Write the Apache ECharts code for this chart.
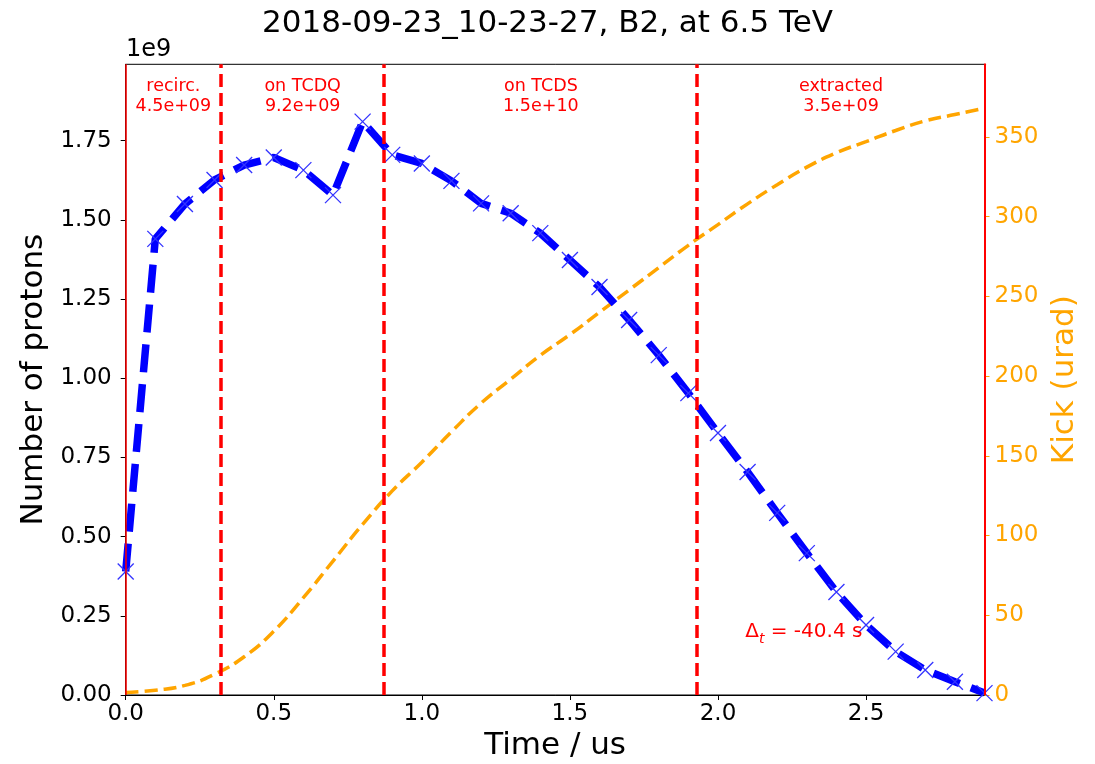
<!DOCTYPE html>
<html>
<head>
<meta charset="utf-8">
<script src="https://cdn.jsdelivr.net/npm/echarts@6/dist/echarts.min.js"></script>
<style>
  html, body { margin: 0; padding: 0; background: #fff; }
  #chart { width: 1095px; height: 764px; }
</style>
</head>
<body>
<div id="chart"></div>
<script>
  // time axis (us), one point every 0.1 us
  var times = [0.0, 0.1, 0.2, 0.3, 0.4, 0.5, 0.6, 0.7, 0.8, 0.9,
               1.0, 1.1, 1.2, 1.3, 1.4, 1.5, 1.6, 1.7, 1.8, 1.9,
               2.0, 2.1, 2.2, 2.3, 2.4, 2.5, 2.6, 2.7, 2.8, 2.9]
  // number of protons (x1e9)
  var protons = [0.39, 1.44, 1.55, 1.626, 1.673, 1.697, 1.657, 1.578, 1.81, 1.705,
                 1.678, 1.623, 1.552, 1.521, 1.458, 1.373, 1.288, 1.184, 1.073, 0.953,
                 0.827, 0.704, 0.575, 0.448, 0.325, 0.221, 0.137, 0.079, 0.042, 0.006]
  // kicker waveform (urad)
  var kick = [1.5, 3, 6, 13, 24, 40, 61, 84, 107, 128,
              146, 165, 183, 198, 213, 226, 240, 254, 268, 282,
              295, 308, 320, 331, 340, 347, 354, 360, 364, 368]
  // region boundaries and labels
  var tStart = 0.0
  var tEnd = 2.9
  var boundaries = [0.322, 0.873, 1.931]
  var regionNames = ['recirc.', 'on TCDQ', 'on TCDS', 'extracted']
  var regionCounts = ['4.5e+09', '9.2e+09', '1.5e+10', '3.5e+09']
  var deltaT = '-40.4 s'

  var font = 'DejaVu Sans'
  var chart = echarts.init(document.getElementById('chart'))

  var edges = [tStart].concat(boundaries).concat([tEnd])
  var regionLabels = regionNames.map(function (n, i) {
    return {
      value: [(edges[i] + edges[i + 1]) / 2, 1.89e9],
      label: { formatter: n + '\n' + regionCounts[i] }
    }
  })

  chart.setOption({
    animation: false,
    title: {
      text: '2018-09-23_10-23-27, B2, at 6.5 TeV',
      left: 'center',
      top: 3,
      textStyle: { fontFamily: font, fontSize: 31, fontWeight: 'normal', color: '#000' }
    },
    graphic: [{
      type: 'text', left: 126, top: 38,
      style: { text: '1e9', fontFamily: font, fontSize: 24, fill: '#000' }
    }],
    grid: {
      left: 125.7, right: 110.5, top: 64.3, bottom: 69,
      outerBoundsMode: 'none',
      containLabel: false,
      show: true, borderColor: '#000', borderWidth: 1
    },
    xAxis: {
      type: 'value',
      min: 0, max: tEnd, interval: 0.5,
      name: 'Time / us',
      nameLocation: 'middle',
      nameGap: 35,
      nameTextStyle: { fontFamily: font, fontSize: 31, color: '#000' },
      axisLine: { show: true, onZero: false, lineStyle: { color: '#000', width: 1 } },
      axisTick: { show: true, length: 5, lineStyle: { color: '#000' } },
      axisLabel: {
        fontFamily: font, fontSize: 23, color: '#000', margin: 8, showMaxLabel: false,
        formatter: function (v) { return v.toFixed(1) }
      },
      splitLine: { show: false }
    },
    yAxis: [{
      type: 'value',
      min: 0, max: 1.991e9, interval: 0.25e9,
      name: 'Number of protons',
      nameLocation: 'middle',
      nameGap: 76,
      nameTextStyle: { fontFamily: font, fontSize: 31, color: '#000' },
      axisLine: { show: true, lineStyle: { color: '#000', width: 1 } },
      axisTick: { show: true, length: 5, lineStyle: { color: '#000' } },
      axisLabel: {
        fontFamily: font, fontSize: 23, color: '#000', margin: 14, showMaxLabel: false,
        formatter: function (v) { return (v / 1e9).toFixed(2) }
      },
      splitLine: { show: false }
    }, {
      type: 'value',
      position: 'right',
      min: 0, max: 395.5, interval: 50,
      name: 'Kick (urad)',
      nameLocation: 'middle',
      nameGap: 63,
      nameRotate: 90,
      nameTextStyle: { fontFamily: font, fontSize: 31, color: '#ffa500' },
      axisLine: { show: true, lineStyle: { color: '#ff0000', width: 2 } },
      axisTick: { show: true, length: 5, lineStyle: { color: '#ffa500' } },
      axisLabel: {
        fontFamily: font, fontSize: 23, color: '#ffa500', margin: 10, showMaxLabel: false
      },
      splitLine: { show: false }
    }],
    series: [{
      name: 'kick',
      type: 'line',
      yAxisIndex: 1,
      data: times.map(function (t, i) { return [t, kick[i]] }),
      smooth: true,
      showSymbol: false,
      lineStyle: { color: '#ffa500', width: 3.5, type: [13, 6] },
      z: 2
    }, {
      name: 'protons',
      type: 'line',
      yAxisIndex: 0,
      data: times.map(function (t, i) { return [t, protons[i] * 1e9] }),
      symbol: 'path://M0,0L10,10M10,0L0,10',
      symbolSize: 16,
      showAllSymbol: true,
      itemStyle: { color: 'rgba(0,0,255,0)', borderColor: '#3333ff', borderWidth: 1.3 },
      lineStyle: { color: '#0000ff', width: 7.5, type: [28, 12] },
      z: 3
    }, {
      name: 'regions',
      type: 'line',
      data: [],
      markLine: {
        silent: true,
        symbol: ['none', 'none'],
        label: { show: false },
        data: boundaries.map(function (b) {
          return { xAxis: b, lineStyle: { color: '#ff0000', width: 3.5, type: [13, 6] } }
        }).concat([
          { xAxis: tStart, lineStyle: { color: '#ff0000', width: 1.5, type: 'solid' } },
          { xAxis: tEnd, lineStyle: { color: '#ff0000', width: 2, type: 'solid' } }
        ])
      },
      z: 4
    }, {
      name: 'labels',
      type: 'scatter',
      symbolSize: 0,
      itemStyle: { opacity: 1 },
      data: regionLabels,
      label: {
        show: true, position: 'inside',
        fontFamily: font, fontSize: 17.5, lineHeight: 20, color: '#ff0000', align: 'center'
      },
      z: 5
    }, {
      name: 'delta',
      type: 'scatter',
      symbolSize: 0,
      itemStyle: { opacity: 1 },
      data: [[2.092, 0.2e9]],
      label: {
        show: true, position: 'right', distance: 0,
        formatter: '{d|Δ}{t|t}{d| = ' + deltaT + '}',
        rich: {
          d: { fontFamily: font, fontSize: 20, color: '#ff0000', lineHeight: 30, verticalAlign: 'middle' },
          t: { fontFamily: font, fontSize: 14, fontStyle: 'italic', color: '#ff0000', lineHeight: 14, verticalAlign: 'bottom' }
        }
      },
      z: 5
    }]
  })
</script>
</body>
</html>
